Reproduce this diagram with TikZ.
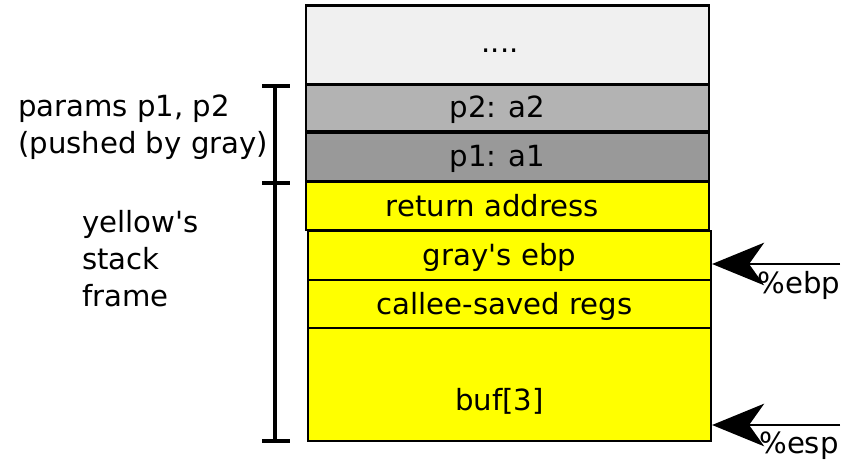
\documentclass[tikz,border=0pt]{standalone}
\usepackage{fontspec}
\setmainfont{DejaVu Sans}
\usetikzlibrary{arrows.meta}

\definecolor{topgray}{HTML}{F0F0F0}
\definecolor{midgray}{HTML}{B3B3B3}
\definecolor{darkgray}{HTML}{999999}
\definecolor{frameyellow}{HTML}{FFFF00}

\begin{document}
\begin{tikzpicture} [x=0.02cm, y=-0.02cm,
        every node/.style={font=\fontsize{16.6}{21}\selectfont},
        slot/.style={draw, line width=1.3pt, minimum width=8.06cm, inner sep=0pt},
        slottext/.style={xshift=-0.2cm, yshift=-0.04cm},
        note/.style={align=left, anchor=west},
        reg/.style={-{Stealth[length=1.04cm, width=0.85cm, inset=0.3cm]}, line width=1.6pt}]
            \useasboundingbox (0,0) rectangle (852,462);

            % the stack, top to bottom
            \node[slot, fill=topgray, minimum height=1.58cm,
                  label={[name=dotstxt, xshift=-0.15cm, yshift=-0.12cm]center:....}] (dots) at (507.5, 45) {};
            \node[slot, fill=midgray, minimum height=0.92cm,
                  label={[name=ptwotxt, slottext]center:p2: a2}] (ptwo) at (507.5, 108) {};
            \node[slot, fill=darkgray, minimum height=0.96cm,
                  label={[name=ponetxt, slottext]center:p1: a1}] (pone) at (507.5, 157) {};
            \node[slot, fill=frameyellow, minimum height=0.96cm,
                  label={[name=rettxt, slottext, xshift=-0.1cm, yshift=0.04cm]center:return address}] (ret) at (507.5, 206) {};
            \node[slot, fill=frameyellow, minimum height=0.98cm,
                  label={[name=ebptxt, slottext]center:gray\textquotesingle s ebp}] (ebp) at (509.5, 255.5) {};
            \node[slot, fill=frameyellow, minimum height=0.96cm,
                  label={[name=regstxt, slottext, xshift=0.1cm]center:callee-saved regs}] (regs) at (509.5, 304) {};
            \node[slot, fill=frameyellow, minimum height=2.26cm,
                  label={[name=buftxt, slottext, yshift=-0.3cm]center:buf[3]}] (buf) at (509.5, 384.5) {};

            % brackets
            \coordinate (btop) at (275, 86);
            \coordinate (bmid) at (275, 183);
            \coordinate (bbot) at (275, 441);
            \draw[line width=2pt] (btop) -- (bbot);
            \foreach \c in {btop, bmid, bbot}
                \draw[line width=2pt] ([xshift=-0.26cm]\c) -- ([xshift=0.3cm]\c);

            \node[note] (params) at (12, 127) {params p1, p2\\(pushed by gray)};
            \node[note] (yellow) at (76, 259) {yellow\textquotesingle s\\stack\\frame};

            % registers
            \coordinate (ebpend) at (840, 264);
            \coordinate (espend) at (840, 425);
            \draw[reg] (ebpend) -- (ebpend -| ebp.east);
            \draw[reg] (espend) -- (espend -| buf.east);
            \node (ebplbl) at (799, 285) {\%ebp};
            \node (esplbl) at (799, 446) {\%esp};
        \end{tikzpicture}
\end{document}
